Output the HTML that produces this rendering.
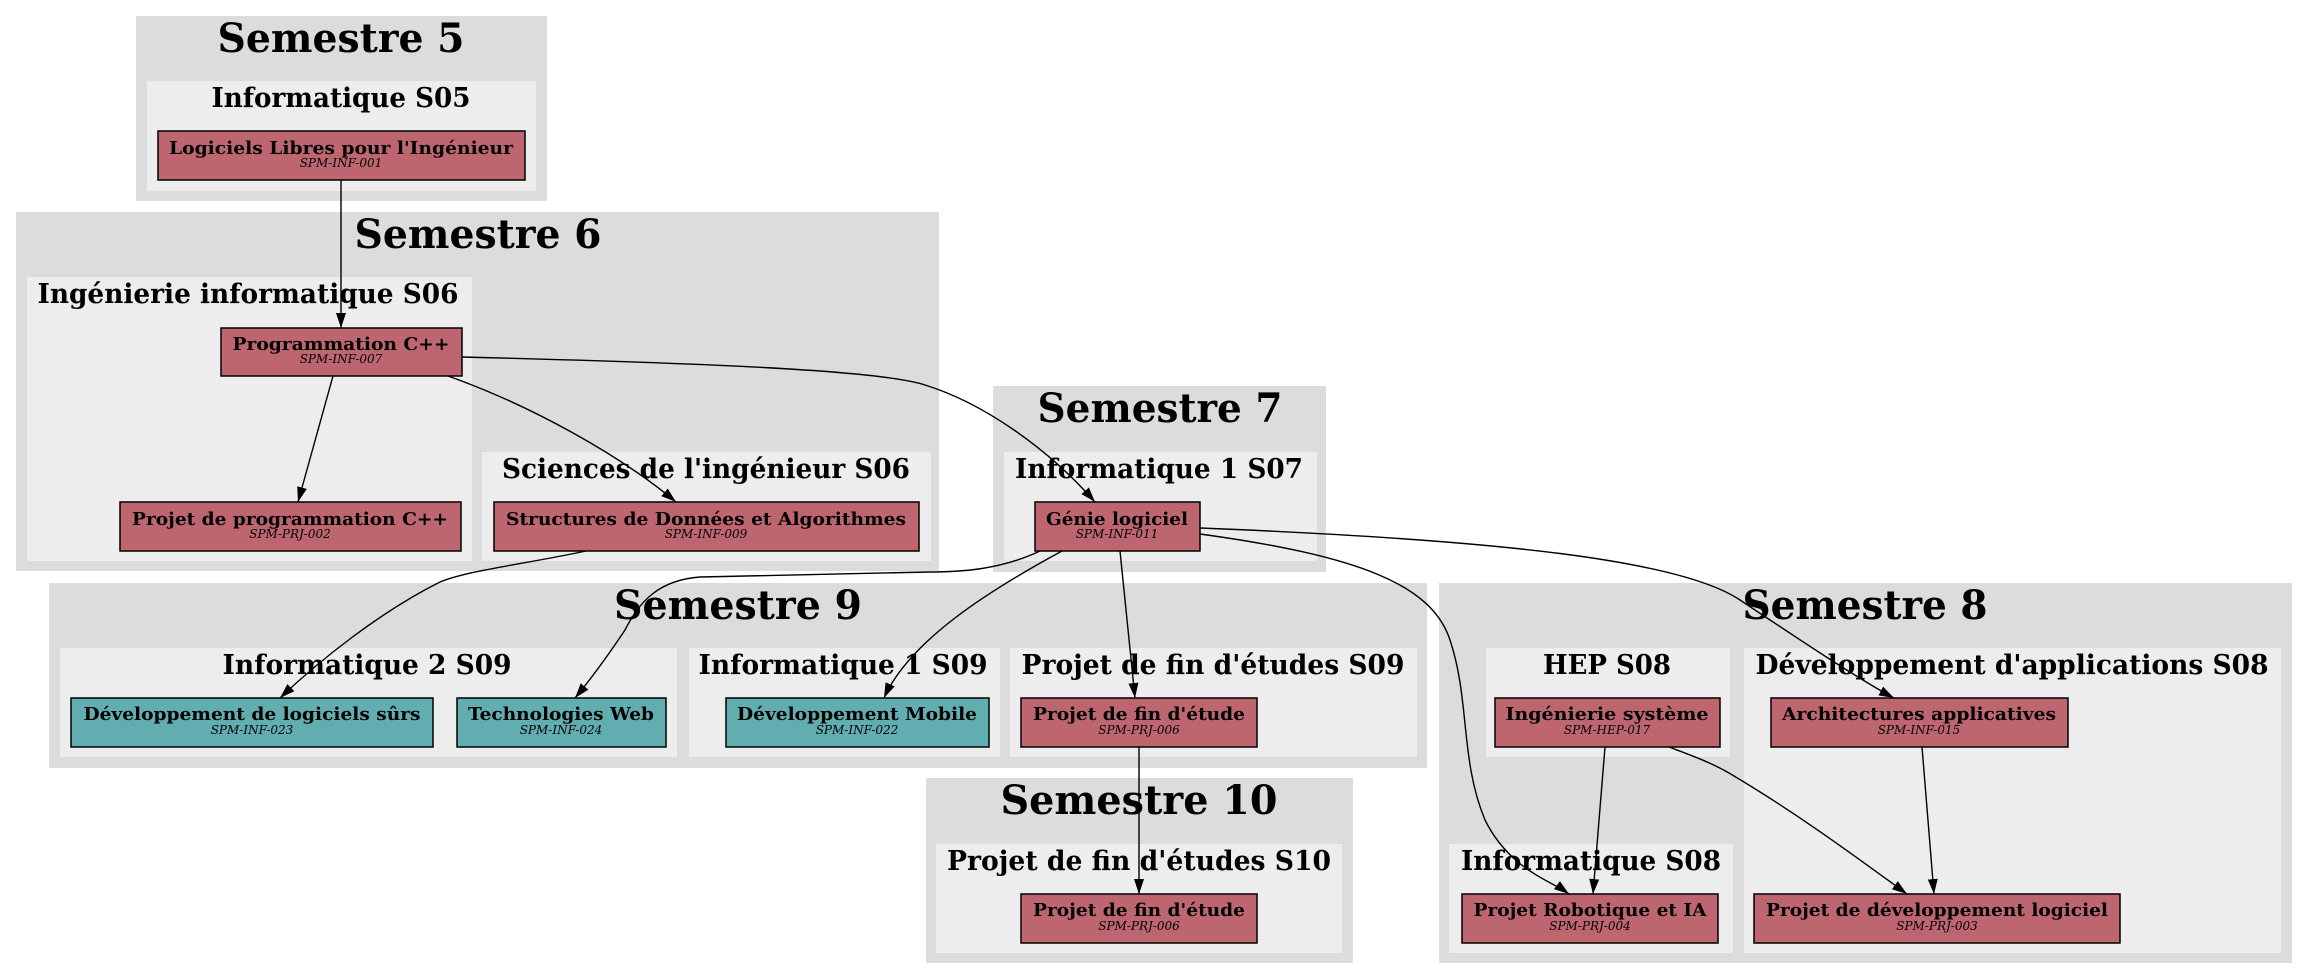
<!DOCTYPE html>
<html><head><meta charset="utf-8"><style>
html,body{margin:0;padding:0;background:#fff;}
svg{display:block;}
.st{font-family:"DejaVu Serif","Liberation Serif",serif;font-weight:bold;font-size:40px;text-anchor:middle;fill:#000;}
.ct{font-family:"DejaVu Serif","Liberation Serif",serif;font-weight:bold;font-size:27px;text-anchor:middle;fill:#000;}
.nl{font-family:"DejaVu Serif","Liberation Serif",serif;font-weight:bold;font-size:18px;text-anchor:middle;fill:#000;}
.nc{font-family:"DejaVu Serif","Liberation Serif",serif;font-style:italic;font-size:12px;text-anchor:middle;fill:#000;}
.o{fill:#dcdcdc;}
.i{fill:#ededed;}
.r{fill:#bd6670;stroke:#000;stroke-width:1.5;}
.t{fill:#62adaf;stroke:#000;stroke-width:1.5;}
.e{fill:none;stroke:#000;stroke-width:1.4;}
</style></head><body>
<svg width="2308" height="980" viewBox="0 0 2308 980" xmlns="http://www.w3.org/2000/svg">
<defs>
<marker id="a" markerUnits="userSpaceOnUse" markerWidth="16" markerHeight="12" refX="15" refY="5" orient="auto">
<path d="M0,0 L15,5 L0,10 z" fill="#000"/>
</marker>
</defs>

<rect class="o" x="136" y="16" width="411" height="185"/>
<text class="st" x="341" y="52" textLength="247" lengthAdjust="spacingAndGlyphs">Semestre 5</text>
<rect class="i" x="147" y="81" width="389" height="110"/>
<text class="ct" x="341" y="107" textLength="259" lengthAdjust="spacingAndGlyphs">Informatique S05</text>

<rect class="o" x="16" y="212" width="923" height="359"/>
<text class="st" x="478" y="248" textLength="247" lengthAdjust="spacingAndGlyphs">Semestre 6</text>
<rect class="i" x="27" y="277" width="445" height="284"/>
<text class="ct" x="248" y="303" textLength="421" lengthAdjust="spacingAndGlyphs">Ingénierie informatique S06</text>
<rect class="i" x="482" y="452" width="449" height="109"/>
<text class="ct" x="706" y="478" textLength="408" lengthAdjust="spacingAndGlyphs">Sciences de l'ingénieur S06</text>

<rect class="o" x="993" y="386" width="333" height="186"/>
<text class="st" x="1160" y="422" textLength="245" lengthAdjust="spacingAndGlyphs">Semestre 7</text>
<rect class="i" x="1004" y="452" width="313" height="109"/>
<text class="ct" x="1159" y="478" textLength="288" lengthAdjust="spacingAndGlyphs">Informatique 1 S07</text>

<rect class="o" x="1439" y="583" width="853" height="380"/>
<text class="st" x="1865" y="619" textLength="245" lengthAdjust="spacingAndGlyphs">Semestre 8</text>
<rect class="i" x="1486" y="648" width="244" height="109"/>
<text class="ct" x="1607" y="674" textLength="128" lengthAdjust="spacingAndGlyphs">HEP S08</text>
<rect class="i" x="1744" y="648" width="537" height="305"/>
<text class="ct" x="2012" y="674" textLength="513" lengthAdjust="spacingAndGlyphs">Développement d'applications S08</text>
<rect class="i" x="1449" y="844" width="284" height="109"/>
<text class="ct" x="1591" y="870" textLength="260" lengthAdjust="spacingAndGlyphs">Informatique S08</text>

<rect class="o" x="49" y="583" width="1378" height="185"/>
<text class="st" x="738" y="619" textLength="248" lengthAdjust="spacingAndGlyphs">Semestre 9</text>
<rect class="i" x="60" y="648" width="617" height="109"/>
<text class="ct" x="367" y="674" textLength="289" lengthAdjust="spacingAndGlyphs">Informatique 2 S09</text>
<rect class="i" x="689" y="648" width="311" height="109"/>
<text class="ct" x="843" y="674" textLength="289" lengthAdjust="spacingAndGlyphs">Informatique 1 S09</text>
<rect class="i" x="1010" y="648" width="407" height="109"/>
<text class="ct" x="1213" y="674" textLength="383" lengthAdjust="spacingAndGlyphs">Projet de fin d'études S09</text>

<rect class="o" x="926" y="778" width="427" height="185"/>
<text class="st" x="1139" y="814" textLength="277" lengthAdjust="spacingAndGlyphs">Semestre 10</text>
<rect class="i" x="936" y="844" width="406" height="109"/>
<text class="ct" x="1139" y="870" textLength="384" lengthAdjust="spacingAndGlyphs">Projet de fin d'études S10</text>

<path class="e" marker-end="url(#a)" d="M341,180 L341,328"/>
<path class="e" marker-end="url(#a)" d="M333,376 L298,502"/>
<path class="e" marker-end="url(#a)" d="M448,376 C530,405 620,455 676,502"/>
<path class="e" marker-end="url(#a)" d="M462,357 C700,363 880,370 925,385 C980,402 1045,445 1095,502"/>
<path class="e" marker-end="url(#a)" d="M586,551 C520,565 470,570 440,582 C380,612 320,660 280,698"/>
<path class="e" marker-end="url(#a)" d="M1040,551 C1000,570 960,572 929,572 L700,577 C660,580 640,600 625,630 C605,660 590,680 575,698"/>
<path class="e" marker-end="url(#a)" d="M1062,551 C990,590 910,640 884,698"/>
<path class="e" marker-end="url(#a)" d="M1120,551 L1135,698"/>
<path class="e" marker-end="url(#a)" d="M1200,534 C1360,556 1432,585 1450,640 C1470,700 1460,760 1485,820 C1510,870 1550,880 1569,894"/>
<path class="e" marker-end="url(#a)" d="M1200,528 C1500,540 1680,560 1740,600 C1800,640 1860,680 1894,698"/>
<path class="e" marker-end="url(#a)" d="M1605,747 L1593,894"/>
<path class="e" marker-end="url(#a)" d="M1669,747 C1690,755 1710,762 1729,773 C1800,815 1860,860 1907,894"/>
<path class="e" marker-end="url(#a)" d="M1922,747 L1934,894"/>
<path class="e" marker-end="url(#a)" d="M1139,747 L1139,894"/>

<rect class="r" x="158" y="131" width="367" height="49"/>
<text class="nl" x="341" y="154" textLength="344" lengthAdjust="spacingAndGlyphs">Logiciels Libres pour l'Ingénieur</text>
<text class="nc" x="341" y="167">SPM-INF-001</text>

<rect class="r" x="221" y="328" width="241" height="48"/>
<text class="nl" x="341" y="350" textLength="217" lengthAdjust="spacingAndGlyphs">Programmation C++</text>
<text class="nc" x="341" y="363">SPM-INF-007</text>

<rect class="r" x="120" y="502" width="341" height="49"/>
<text class="nl" x="290" y="525" textLength="316" lengthAdjust="spacingAndGlyphs">Projet de programmation C++</text>
<text class="nc" x="290" y="538">SPM-PRJ-002</text>

<rect class="r" x="494" y="502" width="425" height="49"/>
<text class="nl" x="706" y="525" textLength="400" lengthAdjust="spacingAndGlyphs">Structures de Données et Algorithmes</text>
<text class="nc" x="706" y="538">SPM-INF-009</text>

<rect class="r" x="1035" y="502" width="165" height="49"/>
<text class="nl" x="1117" y="525" textLength="142" lengthAdjust="spacingAndGlyphs">Génie logiciel</text>
<text class="nc" x="1117" y="538">SPM-INF-011</text>

<rect class="t" x="71" y="698" width="362" height="49"/>
<text class="nl" x="252" y="720" textLength="337" lengthAdjust="spacingAndGlyphs">Développement de logiciels sûrs</text>
<text class="nc" x="252" y="734">SPM-INF-023</text>

<rect class="t" x="457" y="698" width="209" height="49"/>
<text class="nl" x="561" y="720" textLength="186" lengthAdjust="spacingAndGlyphs">Technologies Web</text>
<text class="nc" x="561" y="734">SPM-INF-024</text>

<rect class="t" x="726" y="698" width="263" height="49"/>
<text class="nl" x="857" y="720" textLength="240" lengthAdjust="spacingAndGlyphs">Développement Mobile</text>
<text class="nc" x="857" y="734">SPM-INF-022</text>

<rect class="r" x="1021" y="698" width="236" height="49"/>
<text class="nl" x="1139" y="720" textLength="212" lengthAdjust="spacingAndGlyphs">Projet de fin d'étude</text>
<text class="nc" x="1139" y="734">SPM-PRJ-006</text>

<rect class="r" x="1021" y="894" width="236" height="49"/>
<text class="nl" x="1139" y="916" textLength="212" lengthAdjust="spacingAndGlyphs">Projet de fin d'étude</text>
<text class="nc" x="1139" y="930">SPM-PRJ-006</text>

<rect class="r" x="1495" y="698" width="225" height="49"/>
<text class="nl" x="1607" y="720" textLength="203" lengthAdjust="spacingAndGlyphs">Ingénierie système</text>
<text class="nc" x="1607" y="734">SPM-HEP-017</text>

<rect class="r" x="1771" y="698" width="297" height="49"/>
<text class="nl" x="1919" y="720" textLength="274" lengthAdjust="spacingAndGlyphs">Architectures applicatives</text>
<text class="nc" x="1919" y="734">SPM-INF-015</text>

<rect class="r" x="1462" y="894" width="256" height="49"/>
<text class="nl" x="1590" y="916" textLength="233" lengthAdjust="spacingAndGlyphs">Projet Robotique et IA</text>
<text class="nc" x="1590" y="930">SPM-PRJ-004</text>

<rect class="r" x="1754" y="894" width="366" height="49"/>
<text class="nl" x="1937" y="916" textLength="342" lengthAdjust="spacingAndGlyphs">Projet de développement logiciel</text>
<text class="nc" x="1937" y="930">SPM-PRJ-003</text>
</svg>
</body></html>
